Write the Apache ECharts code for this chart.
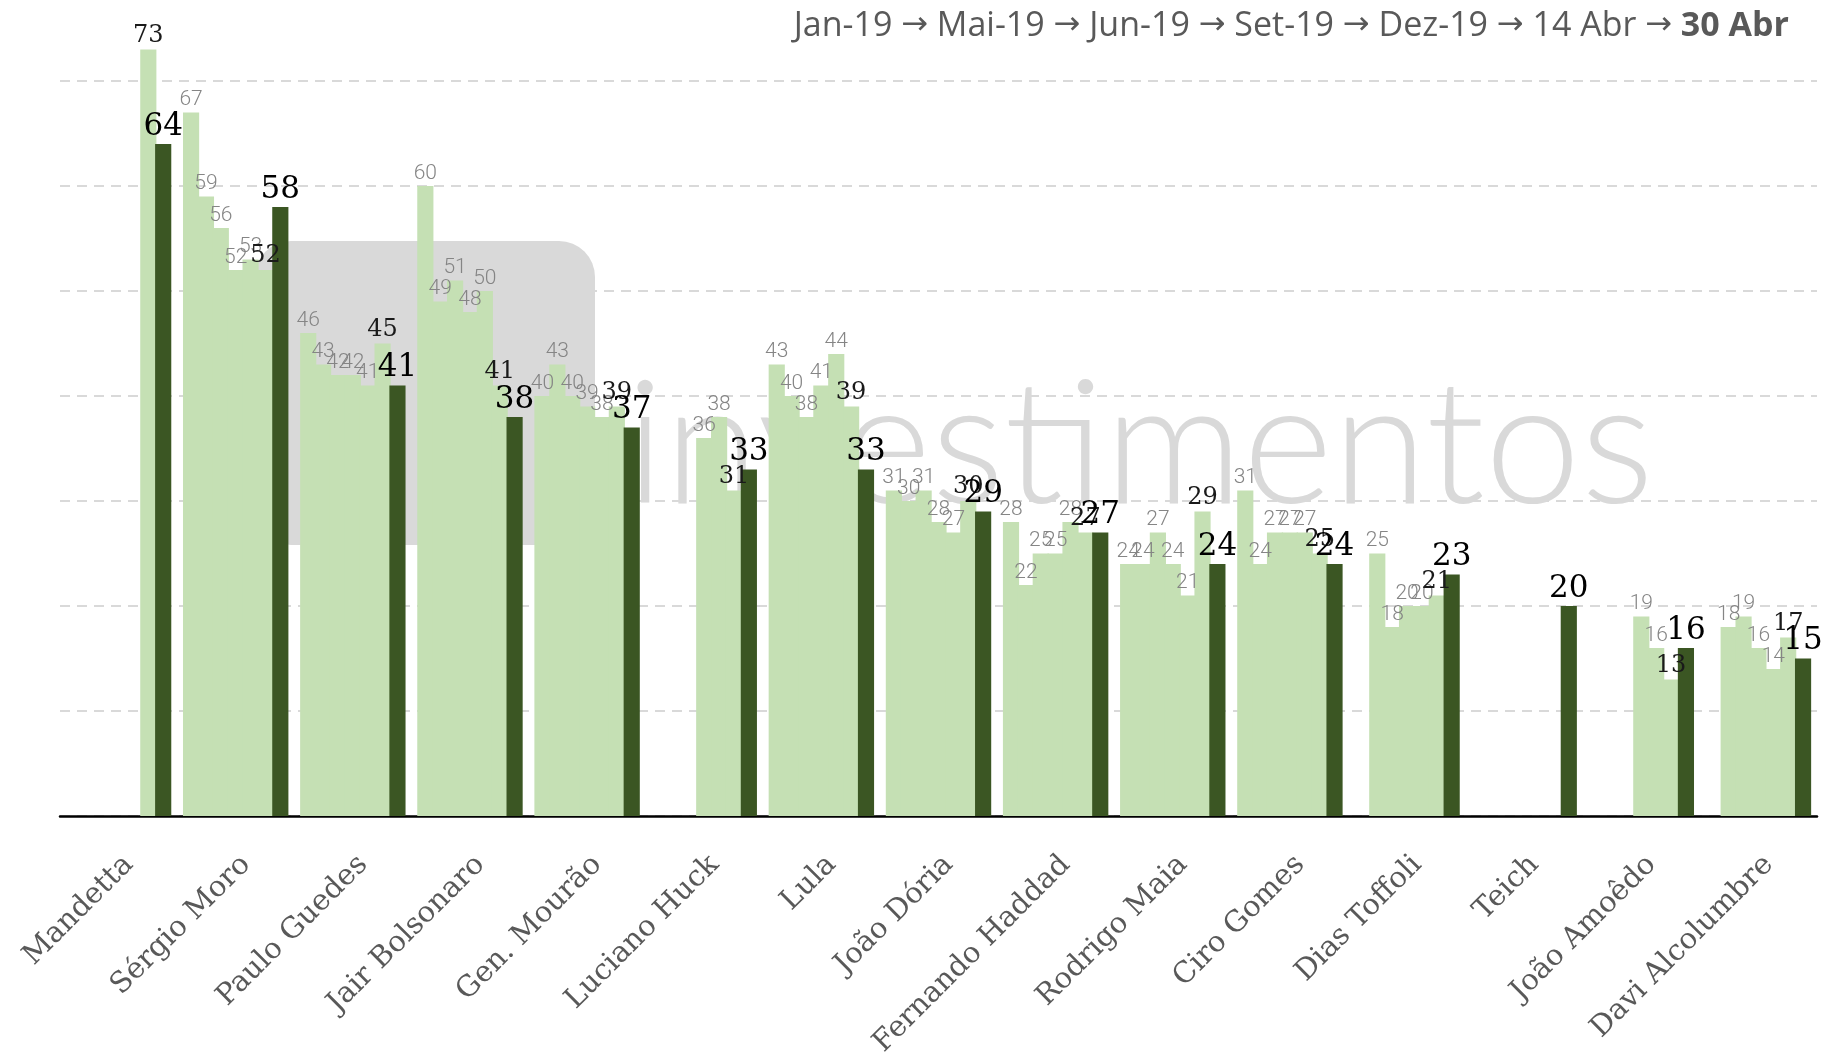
<!DOCTYPE html>
<html>
<head>
<meta charset="utf-8">
<title>ECharts</title>
<script src="https://cdn.jsdelivr.net/npm/echarts/dist/echarts.min.js"></script>
</head>
<body style="margin: 0;">
	<div id="main" style="width: 1824px; height: 1053px;"></div>
	<script type="text/javascript">

		// nomes
		var categorias = ['Mandetta', 'Sérgio Moro', 'Paulo Guedes', 'Jair Bolsonaro', 'Gen. Mourão',
			'Luciano Huck', 'Lula', 'João Dória', 'Fernando Haddad', 'Rodrigo Maia', 'Ciro Gomes',
			'Dias Toffoli', 'Teich', 'João Amoêdo', 'Davi Alcolumbre'];
		var periodos = ['Jan-19', 'Mai-19', 'Jun-19', 'Set-19', 'Dez-19', '14 Abr', '30 Abr'];

		// valores por pesquisa
		var jan19 = [null, 67, 46, 60, 40, null, 43, 31, 28, 24, 31, null, null, null, null];
		var mai19 = [null, 59, 43, 49, 43, null, 40, 30, 22, 24, 24, 25, null, null, 18];
		var jun19 = [null, 56, 42, 51, 40, null, 38, 31, 25, 27, 27, 18, null, null, 19];
		var set19 = [null, 52, 42, 48, 39, 36, 41, 28, 25, 24, 27, 20, null, 19, 16];
		var dez19 = [null, 53, 41, 50, 38, 38, 44, 27, 28, 21, 27, 20, null, 16, 14];
		var abr14 = [73, 52, 45, 41, 39, 31, 39, 30, 27, 29, 25, 21, null, 13, 17];
		var abr30 = [64, 58, 41, 38, 37, 33, 33, 29, 27, 24, 24, 23, 20, 16, 15];

		var valores = [jan19, mai19, jun19, set19, dez19, abr14, abr30];

		var verdeClaro = '#c5e0b4';
		var verdeEscuro = '#3b5623';

		var labelCinza = { fontFamily: 'Roboto', fontSize: 21, color: '#858585', fontWeight: 300 };
		var labelMedio = { fontFamily: 'DejaVu Serif', fontSize: 24, color: '#1a1a1a', fontWeight: 'normal' };
		var labelGrande = { fontFamily: 'DejaVu Serif', fontSize: 31, color: '#000', fontWeight: 'normal' };

		var series = valores.map(function (dados, i) {
			var estilo = i < 5 ? labelCinza : (i == 5 ? labelMedio : labelGrande);
			return {
				name: periodos[i],
				type: 'bar',
				data: dados,
				barGap: '-8%',
				barCategoryGap: '10%',
				itemStyle: { color: i == 6 ? verdeEscuro : verdeClaro },
				label: {
					show: true,
					position: 'top',
					distance: 2,
					fontFamily: estilo.fontFamily,
					fontSize: estilo.fontSize,
					fontWeight: estilo.fontWeight,
					color: estilo.color
				}
			};
		});

		// titulo: periodos ligados por setas
		var seta = ' {s|\u2192} ';
		var titulo = periodos.slice(0, 6).map(function (p) { return '{a|' + p + '}'; }).join(seta)
			+ seta + '{b|' + periodos[6] + '}';

		var myChart = echarts.init(document.getElementById('main'));
		myChart.setOption({
			animation: false,
			title: {
				text: titulo,
				right: 30,
				top: 4,
				textStyle: {
					fontWeight: 'normal',
					fontFamily: 'Open Sans',
					fontSize: 34,
					color: '#595959',
					rich: {
						a: { fontFamily: 'Open Sans', fontSize: 34, color: '#595959', fontWeight: 'normal' },
						s: { fontFamily: 'DejaVu Sans', fontSize: 32, color: '#595959', fontWeight: 'normal' },
						b: { fontFamily: 'Open Sans', fontSize: 34, color: '#595959', fontWeight: 'bold' }
					}
				}
			},
			graphic: {
				elements: [
					{
						type: 'rect',
						z: -10,
						shape: { x: 255, y: 241, width: 340, height: 304, r: 36 },
						style: { fill: '#d9d9d9' }
					},
					{
						type: 'text',
						z: -10,
						style: {
							text: 'investimentos',
							x: 626,
							y: 448,
							fontFamily: 'Lato',
							fontWeight: 300,
							fontSize: 172,
							fill: '#d9d9d9',
							verticalAlign: 'middle'
						}
					}
				]
			},
			grid: {
				left: 60,
				right: 7,
				top: -24,
				bottom: 237,
				outerBoundsMode: 'none'
			},
			xAxis: {
				type: 'category',
				data: categorias,
				axisLine: { lineStyle: { color: '#000', width: 2.5 } },
				axisTick: { show: false },
				axisLabel: {
					rotate: 45,
					interval: 0,
					margin: 34,
					verticalAlign: 'top',
					fontFamily: 'DejaVu Serif',
					fontSize: 29,
					color: '#595959'
				}
			},
			yAxis: {
				type: 'value',
				min: 0,
				max: 80,
				interval: 10,
				axisLabel: { show: false },
				axisLine: { show: false },
				axisTick: { show: false },
				splitLine: { lineStyle: { color: '#d9d9d9', width: 2, type: [10, 7] } }
			},
			series: series
		});
	</script>
</body>
</html>
